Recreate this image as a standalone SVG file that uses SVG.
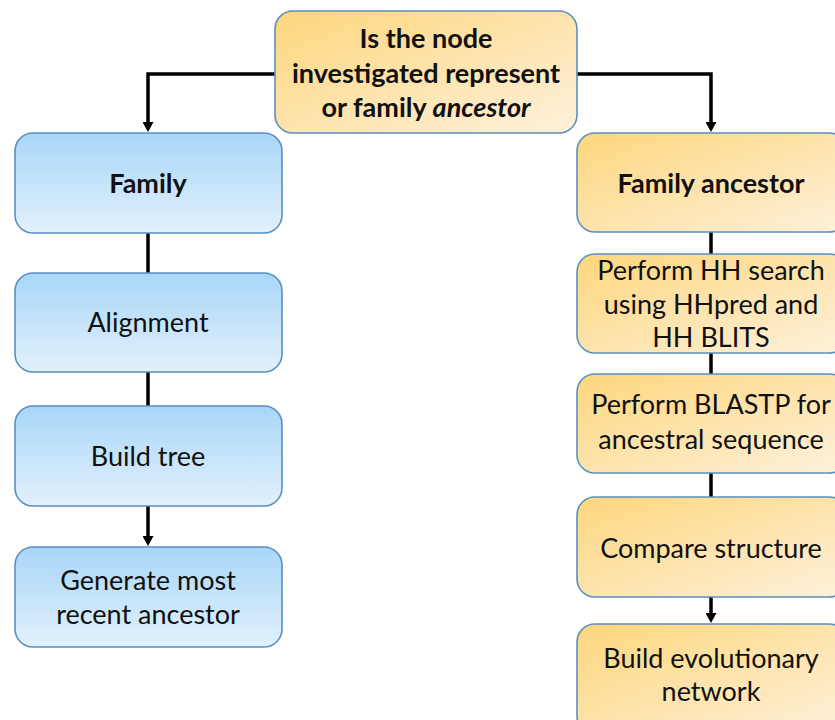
<svg xmlns="http://www.w3.org/2000/svg" width="835" height="720" viewBox="0 0 835 720">
<defs>
<linearGradient id="gBlue" x1="0" y1="0" x2="0" y2="1">
<stop offset="0" stop-color="#a8d6f8"/>
<stop offset="1" stop-color="#e2f1fc"/>
</linearGradient>
<linearGradient id="gOrange" x1="0" y1="0" x2="1" y2="1">
<stop offset="0" stop-color="#fdd67c"/>
<stop offset="1" stop-color="#fef1dc"/>
</linearGradient>
<marker id="arrow" markerWidth="11" markerHeight="11" refX="2" refY="5.5" orient="auto" markerUnits="userSpaceOnUse" viewBox="0 0 11 11">
<path d="M0,0 L10,5.5 L0,11 z" fill="#000"/>
</marker>
<style>
.blue{fill:url(#gBlue);stroke:#5a8fc0;stroke-width:1.6}
.orange{fill:url(#gOrange);stroke:#5a8fc0;stroke-width:1.6}
.t{font-family:Lato,"Open Sans","Liberation Sans",sans-serif;font-size:27px;fill:#111;text-anchor:middle}
.b{font-weight:bold}
.con{fill:none;stroke:#000;stroke-width:3.5}
</style>
</defs>
<g id="connectors">
<path class="con" d="M275,74 H148 V124" marker-end="url(#arrow)"/>
<path class="con" d="M577,74 H711 V124" marker-end="url(#arrow)"/>
<path class="con" d="M148,233 V273"/>
<path class="con" d="M148,372 V406"/>
<path class="con" d="M148,506 V538" marker-end="url(#arrow)"/>
<path class="con" d="M711,232 V254"/>
<path class="con" d="M711,353 V374"/>
<path class="con" d="M711,473 V497"/>
<path class="con" d="M711,597 V615" marker-end="url(#arrow)"/>
</g>
<g id="question">
<rect class="orange" x="275" y="11" width="302" height="122" rx="18"/>
<text class="t b" x="426" y="48">Is the node</text>
<text class="t b" x="426" y="83">investigated represent</text>
<text class="t b" x="426" y="117">or family <tspan font-style="italic">ancestor</tspan></text>
</g>
<g id="family">
<rect class="blue" x="15" y="133" width="267" height="100" rx="18"/>
<text class="t b" x="148" y="193">Family</text>
</g>
<g id="alignment">
<rect class="blue" x="15" y="273" width="267" height="99" rx="18"/>
<text class="t" x="148" y="332">Alignment</text>
</g>
<g id="buildtree">
<rect class="blue" x="15" y="406" width="267" height="100" rx="18"/>
<text class="t" x="148" y="466">Build tree</text>
</g>
<g id="generate">
<rect class="blue" x="15" y="547" width="267" height="100" rx="18"/>
<text class="t" x="148" y="590">Generate most</text>
<text class="t" x="148" y="624">recent ancestor</text>
</g>
<g id="familyancestor">
<rect class="orange" x="577" y="133" width="270" height="99" rx="18"/>
<text class="t b" x="711" y="193">Family ancestor</text>
</g>
<g id="hhsearch">
<rect class="orange" x="577" y="254" width="270" height="99" rx="18"/>
<text class="t" x="711" y="280">Perform HH search</text>
<text class="t" x="711" y="314">using HHpred and</text>
<text class="t" x="711" y="347">HH BLITS</text>
</g>
<g id="blastp">
<rect class="orange" x="577" y="374" width="270" height="99" rx="18"/>
<text class="t" x="711" y="414">Perform BLASTP for</text>
<text class="t" x="711" y="449">ancestral sequence</text>
</g>
<g id="compare">
<rect class="orange" x="577" y="497" width="270" height="100" rx="18"/>
<text class="t" x="711" y="558">Compare structure</text>
</g>
<g id="network">
<rect class="orange" x="577" y="624" width="270" height="110" rx="18"/>
<text class="t" x="711" y="668">Build evolutionary</text>
<text class="t" x="711" y="701">network</text>
</g>
</svg>
